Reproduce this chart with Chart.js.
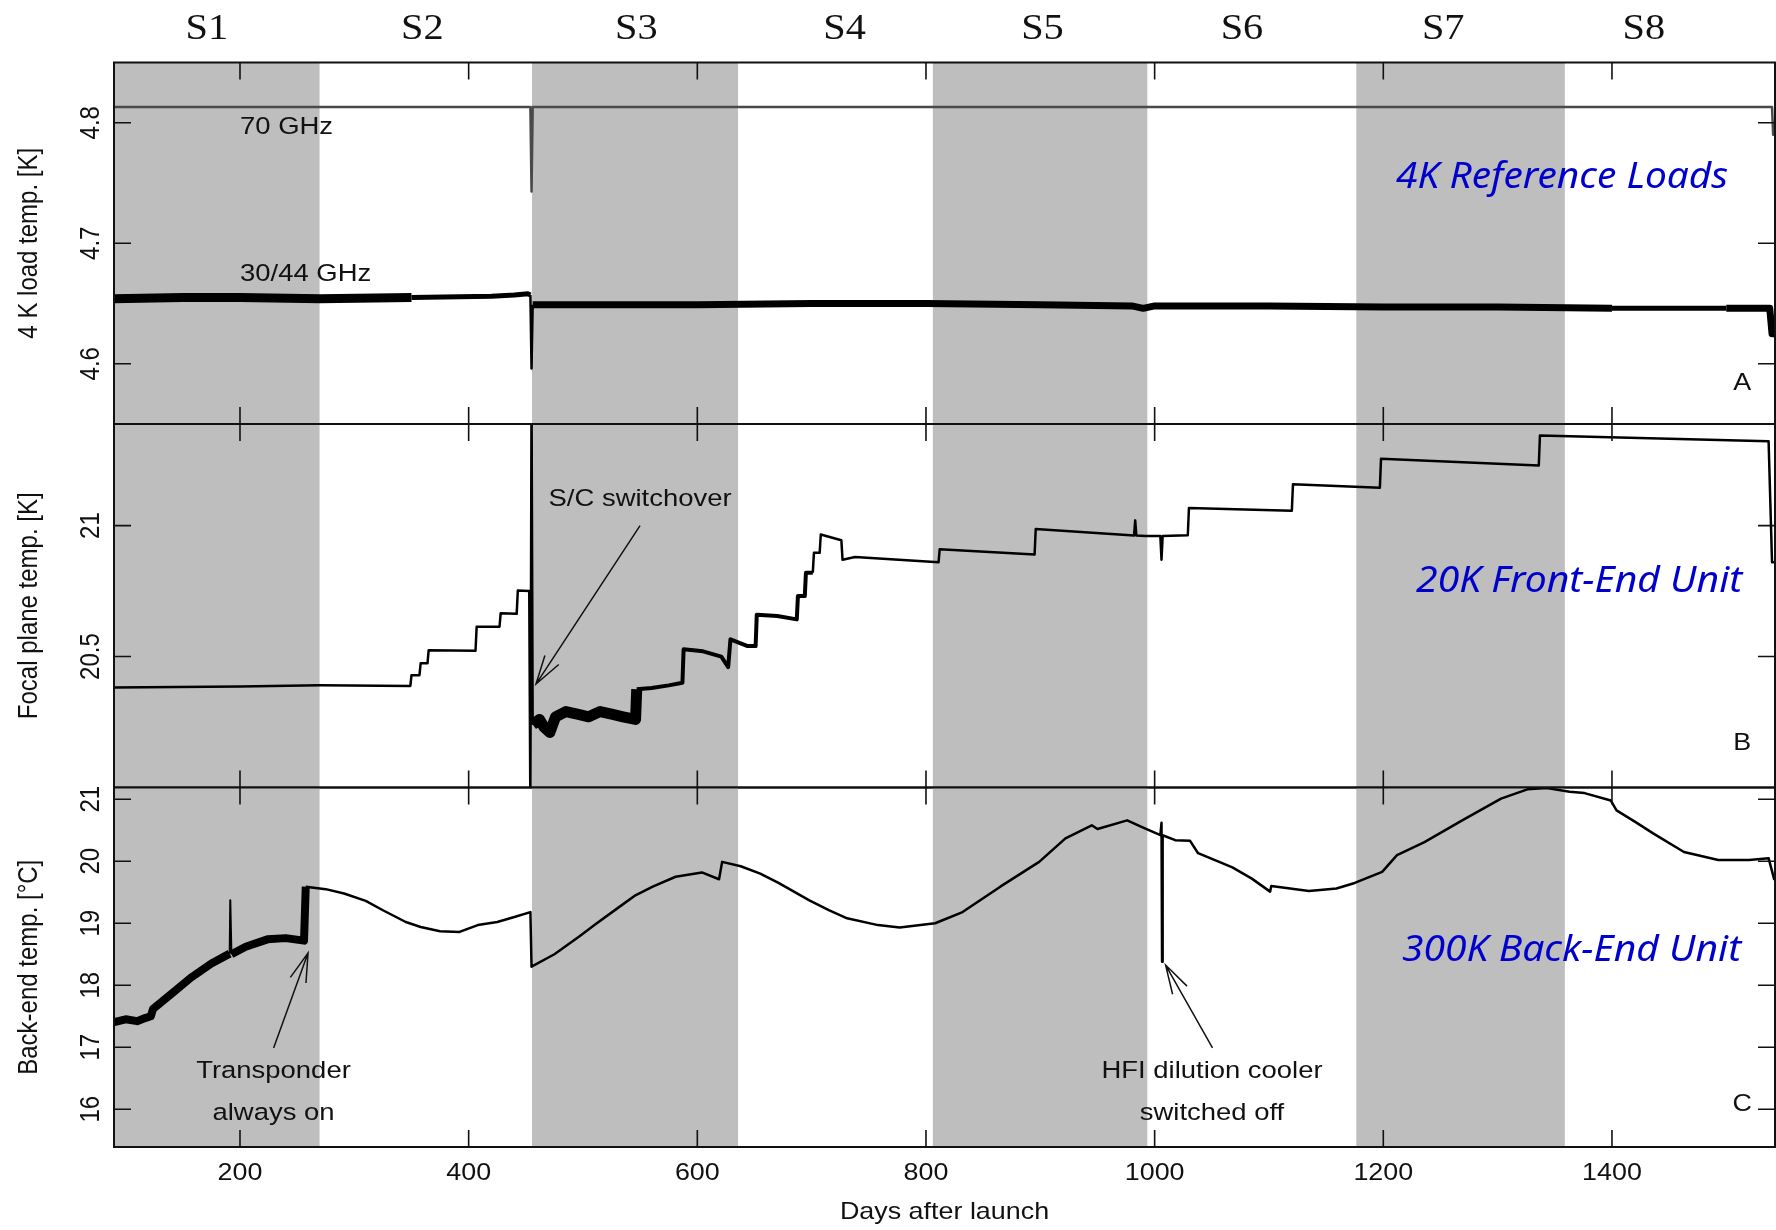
<!DOCTYPE html>
<html>
<head>
<meta charset="utf-8">
<title>LFI temperatures</title>
<script src="https://cdn.jsdelivr.net/npm/chart.js@4.4.1/dist/chart.umd.min.js"></script>
<style>
  html, body { margin: 0; padding: 0; background: #fff; }
  #wrap { position: relative; width: 1776px; height: 1230px; }
  #wrap canvas { position: absolute; left: 0; top: 0; }
</style>
</head>
<body>
<div id="wrap">
  <canvas id="panelA" width="1776" height="1230"></canvas>
  <canvas id="panelB" width="1776" height="1230"></canvas>
  <canvas id="panelC" width="1776" height="1230"></canvas>
</div>
<script>
// ---------- data ----------
const xTicks          = [200, 400, 600, 800, 1000, 1200, 1400];
const surveyNames     = ['S1', 'S2', 'S3', 'S4', 'S5', 'S6', 'S7', 'S8'];
const surveyEdges     = [0, 269.6, 455.4, 635.6, 806, 993.6, 1176.4, 1358.8, 1600];
const surveyLabelDays = [171, 359.5, 546.7, 728.8, 901.9, 1076.4, 1252.4, 1427.9];

// A: 4K reference loads
const loadTicks   = [4.6, 4.7, 4.8];
const lfi70Days   = [89, 454, 455, 456, 1540, 1541, 1543];
const lfi70Temp   = [4.813, 4.813, 4.743, 4.813, 4.813, 4.790, 4.790];
const lfi3044Days = [89, 150, 200, 270, 350, 420, 440, 452, 454, 455, 456, 600, 700, 800, 900, 980, 990, 1000, 1100, 1200, 1300, 1400, 1500, 1538, 1540, 1543];
const lfi3044Temp = [4.654, 4.655, 4.655, 4.654, 4.655, 4.656, 4.657, 4.658, 4.657, 4.596, 4.649, 4.649, 4.650, 4.650, 4.649, 4.648, 4.646, 4.648, 4.648, 4.647, 4.647, 4.646, 4.646, 4.646, 4.625, 4.625];

// B: 20K front-end unit
const focalTicks = [20.5, 21];
const focalDays = [89, 200, 270, 349, 350, 357, 358, 364, 365, 406, 407, 427, 428, 442, 443, 453,
  454, 455, 456, 462, 466, 471, 476, 485, 495, 505, 515, 525, 535, 546,
  547, 560, 575, 587, 588, 605, 621, 627, 629, 644, 651, 652, 670, 687, 688, 694, 695, 701, 702, 707, 708, 726,
  727, 738, 811, 812, 895, 896, 982, 983, 984, 992, 1005, 1006, 1007, 1029, 1030, 1120, 1121, 1197, 1198,
  1336, 1337, 1537, 1540, 1543];
const focalTemp = [20.382, 20.386, 20.390, 20.388, 20.429, 20.429, 20.474, 20.474, 20.524, 20.522, 20.614, 20.614, 20.665, 20.663, 20.752, 20.750,
  19.9, 21.5, 20.24, 20.26, 20.23, 20.21, 20.27, 20.29, 20.28, 20.27, 20.29, 20.28, 20.27, 20.26,
  20.375, 20.38, 20.39, 20.40, 20.528, 20.52, 20.50, 20.46, 20.566, 20.54, 20.54, 20.66, 20.655, 20.642, 20.731, 20.731, 20.82, 20.82, 20.896, 20.896, 20.966, 20.944,
  20.87, 20.88, 20.86, 20.91, 20.89, 20.987, 20.962, 21.02, 20.962, 20.96, 20.96, 20.87, 20.96, 20.963, 21.067, 21.057, 21.158, 21.145, 21.255,
  21.23, 21.344, 21.322, 20.86, 20.86];

// C: 300K back-end unit
const backTicks = [16, 17, 18, 19, 20, 21];
const backDays = [89, 100, 110, 117, 122, 124, 140, 157, 175, 191, 191.5, 192.5, 205, 224, 240, 256,
  257.5, 275, 291, 310, 325, 345, 358, 375, 392, 408, 425, 440, 454, 455, 475, 497, 510, 530, 545, 561, 581, 604, 619, 621.7,
  638, 655, 671, 698, 715, 731, 758, 777, 808, 832, 865, 899, 922, 945, 950, 976, 989, 1005, 1006, 1006.5, 1007,
  1018, 1031, 1038, 1068, 1085, 1101, 1102, 1135, 1159, 1175, 1199, 1212, 1236, 1269, 1303, 1326, 1343, 1363, 1376,
  1399, 1404, 1420, 1436, 1463, 1493, 1520, 1537, 1542];
const backTemp = [17.40, 17.45, 17.42, 17.47, 17.50, 17.62, 17.86, 18.12, 18.35, 18.51, 19.37, 18.50, 18.62, 18.74, 18.76, 18.72,
  19.59, 19.55, 19.48, 19.36, 19.21, 19.02, 18.94, 18.87, 18.86, 18.97, 19.02, 19.10, 19.18, 18.30, 18.50, 18.79, 18.97, 19.24, 19.44, 19.59, 19.75, 19.82, 19.71, 19.99,
  19.92, 19.80, 19.65, 19.37, 19.21, 19.08, 18.97, 18.93, 19.00, 19.18, 19.59, 19.99, 20.37, 20.58, 20.52, 20.66, 20.55, 20.42, 20.62, 18.38, 20.42,
  20.34, 20.33, 20.13, 19.90, 19.72, 19.51, 19.60, 19.52, 19.56, 19.65, 19.83, 20.10, 20.31, 20.66, 21.01, 21.16, 21.18, 21.12, 21.10,
  20.98, 20.82, 20.64, 20.45, 20.15, 20.02, 20.02, 20.05, 19.70];

// ---------- helpers ----------
const X_MIN = 89.8, X_MAX = 1542.6;
const INK = '#111';
const SX = 1.12;       // lettering of the original is stretched sideways
const TICK = 17;

const pts = (xs, ys) => xs.map((x, i) => ({ x, y: ys[i] }));

function label(ctx, str, x, y, size, align, rot, family) {
  ctx.save();
  ctx.translate(x, y);
  ctx.scale(SX, 1);
  if (rot) ctx.rotate(rot);
  ctx.font = `${size}px ${family || '"Liberation Sans", Arial, sans-serif'}`;
  ctx.fillStyle = INK;
  ctx.textAlign = align || 'center';
  ctx.textBaseline = 'middle';
  ctx.fillText(str, 0, 0);
  ctx.restore();
}

function blueTag(ctx, str, xl, xr, y) {
  ctx.save();
  ctx.font = 'italic 37px "Noto Sans", sans-serif';
  const w = ctx.measureText(str).width;
  ctx.translate(xl, y);
  ctx.scale((xr - xl) / w, 1);
  ctx.fillStyle = '#0000cc';
  ctx.textAlign = 'left';
  ctx.textBaseline = 'middle';
  ctx.fillText(str, 0, 0);
  ctx.restore();
}

function arrow(ctx, x0, y0, x1, y1) {
  const ang = Math.atan2(y1 - y0, x1 - x0), len = 30, spread = 0.28;
  ctx.beginPath();
  ctx.moveTo(x0, y0); ctx.lineTo(x1, y1);
  ctx.moveTo(x1 - len * Math.cos(ang - spread), y1 - len * Math.sin(ang - spread));
  ctx.lineTo(x1, y1);
  ctx.lineTo(x1 - len * Math.cos(ang + spread), y1 - len * Math.sin(ang + spread));
  ctx.stroke();
}

// per-panel decoration, looked up by canvas id
const PANELS = {
  panelA: {
    top: 62.5, bottom: 424, min: 4.55, max: 4.85, yTicks: loadTicks,
    title: '4 K load temp. [K]', letter: 'A', letterAt: [1513.9, 4.584],
    tag: '4K Reference Loads', tagAt: [1211.2, 1501.6, 4.755],
    notes: [
      { text: '70 GHz',    at: [200, 4.796],  align: 'left' },
      { text: '30/44 GHz', at: [200, 4.6746], align: 'left' },
    ],
    arrows: [],
  },
  panelB: {
    top: 424, bottom: 787.5, min: 20.0, max: 21.388, yTicks: focalTicks,
    title: 'Focal plane temp. [K]', letter: 'B', letterAt: [1513.9, 20.17],
    tag: '20K Front-End Unit', tagAt: [1228.7, 1513.9, 20.787],
    notes: [ { text: 'S/C switchover', at: [549.9, 21.1], align: 'center' } ],
    arrows: [ [549.9, 21.0, 458.9, 20.395] ],
  },
  panelC: {
    top: 787.5, bottom: 1147, min: 15.39, max: 21.19, yTicks: backTicks,
    title: 'Back-end temp. [°C]', letter: 'C', letterAt: [1513.9, 16.07],
    tag: '300K Back-End Unit', tagAt: [1216.4, 1513, 18.567],
    notes: [
      { text: 'Transponder',         at: [229.3, 16.607], align: 'center' },
      { text: 'always on',           at: [229.3, 15.93],  align: 'center' },
      { text: 'HFI dilution cooler', at: [1050.2, 16.607], align: 'center' },
      { text: 'switched off',        at: [1050.2, 15.93],  align: 'center' },
    ],
    arrows: [ [229.4, 16.988, 259.5, 18.518], [1050.6, 16.988, 1009.6, 18.325] ],
  },
};

const panelPlugin = {
  id: 'panelDeco',
  beforeDatasetsDraw(chart) {
    const { ctx, chartArea: a, scales: { x } } = chart;
    ctx.save();
    ctx.fillStyle = '#bebebe';
    for (let i = 0; i < surveyEdges.length - 1; i += 2) {
      const l = Math.max(a.left, x.getPixelForValue(surveyEdges[i]));
      const r = Math.min(a.right, x.getPixelForValue(surveyEdges[i + 1]));
      ctx.fillRect(l, a.top, r - l, a.bottom - a.top);
    }
    ctx.restore();
  },
  afterDatasetsDraw(chart) {
    const cfg = PANELS[chart.canvas.id];
    const { ctx, chartArea: a, scales: { x, y } } = chart;
    ctx.save();
    ctx.strokeStyle = INK;
    ctx.lineWidth = 2;
    ctx.strokeRect(a.left, a.top, a.right - a.left, a.bottom - a.top);

    // inward ticks on all four sides
    ctx.lineWidth = 1.6;
    ctx.beginPath();
    xTicks.forEach(v => {
      const px = x.getPixelForValue(v);
      ctx.moveTo(px, a.top);    ctx.lineTo(px, a.top + TICK);
      ctx.moveTo(px, a.bottom); ctx.lineTo(px, a.bottom - TICK);
    });
    cfg.yTicks.forEach(v => {
      const py = y.getPixelForValue(v);
      ctx.moveTo(a.left, py);  ctx.lineTo(a.left + TICK, py);
      ctx.moveTo(a.right, py); ctx.lineTo(a.right - TICK, py);
    });
    ctx.stroke();

    // y tick labels + title, rotated like R's default
    cfg.yTicks.forEach(v => label(ctx, String(v), a.left - 22, y.getPixelForValue(v), 24, 'center', -Math.PI / 2));
    label(ctx, cfg.title, 30, (a.top + a.bottom) / 2, 24, 'center', -Math.PI / 2);

    // panel letter, blue tag, notes, arrows
    label(ctx, cfg.letter, x.getPixelForValue(cfg.letterAt[0]), y.getPixelForValue(cfg.letterAt[1]), 24);
    blueTag(ctx, cfg.tag, x.getPixelForValue(cfg.tagAt[0]), x.getPixelForValue(cfg.tagAt[1]), y.getPixelForValue(cfg.tagAt[2]));
    cfg.notes.forEach(n => label(ctx, n.text, x.getPixelForValue(n.at[0]), y.getPixelForValue(n.at[1]), 24.5, n.align));
    ctx.lineWidth = 1.5;
    cfg.arrows.forEach(r => arrow(ctx, x.getPixelForValue(r[0]), y.getPixelForValue(r[1]), x.getPixelForValue(r[2]), y.getPixelForValue(r[3])));

    if (chart.canvas.id === 'panelA') {
      surveyNames.forEach((s, i) => label(ctx, s, x.getPixelForValue(surveyLabelDays[i]), 30, 36, 'center', 0, '"Liberation Serif", "Times New Roman", serif'));
    }
    if (chart.canvas.id === 'panelC') {
      xTicks.forEach(v => label(ctx, String(v), x.getPixelForValue(v), a.bottom + 26, 24));
      label(ctx, 'Days after launch', (a.left + a.right) / 2, 1212, 24);
    }
    ctx.restore();
  },
};

function makeChart(id, datasets) {
  const cfg = PANELS[id];
  return new Chart(document.getElementById(id), {
    type: 'line',
    data: { datasets },
    options: {
      responsive: false,
      animation: false,
      events: [],
      parsing: false,
      layout: { padding: { left: 114, right: 1, top: cfg.top, bottom: 1230 - cfg.bottom } },
      plugins: { legend: { display: false }, tooltip: { enabled: false }, title: { display: false } },
      elements: { point: { radius: 0 }, line: { tension: 0, borderCapStyle: 'butt', borderJoinStyle: 'round' } },
      scales: {
        x: { type: 'linear', min: X_MIN, max: X_MAX, display: false },
        y: { type: 'linear', min: cfg.min, max: cfg.max, display: false },
      },
    },
    plugins: [panelPlugin],
  });
}

makeChart('panelA', [
  {
    label: '70 GHz', data: pts(lfi70Days, lfi70Temp),
    borderColor: '#4a4a4a', borderWidth: 2.5, clip: 0,
  },
  {
    label: '30/44 GHz', data: pts(lfi3044Days, lfi3044Temp),
    borderColor: '#000', borderWidth: 7, clip: 0,
    segment: {
      borderWidth: c => {
        const d = c.p0.parsed.x;
        if (d < 340) return 9;
        if (d < 454) return 5;
        if (d < 456) return 2.5;
        if ((d >= 1230 && d < 1300) || (d >= 1400 && d < 1490)) return 5;
        return 7;
      },
    },
  },
]);

makeChart('panelB', [
  {
    label: 'Focal plane', data: pts(focalDays, focalTemp),
    borderColor: '#000', borderWidth: 2.5, clip: 0,
    segment: {
      borderWidth: c => {
        const d = c.p0.parsed.x;
        if (d >= 456 && d < 547) return 11;
        if (d >= 547 && d < 700) return 4;
        return 2.5;
      },
    },
  },
]);

makeChart('panelC', [
  {
    label: 'Back-end', data: pts(backDays, backTemp),
    borderColor: '#000', borderWidth: 2.5, clip: 0,
    segment: {
      borderWidth: c => {
        const d = c.p0.parsed.x;
        if (d >= 191 && d < 192.5) return 2;
        return d < 257 ? 8 : 2.5;
      },
    },
  },
]);
</script>
</body>
</html>
